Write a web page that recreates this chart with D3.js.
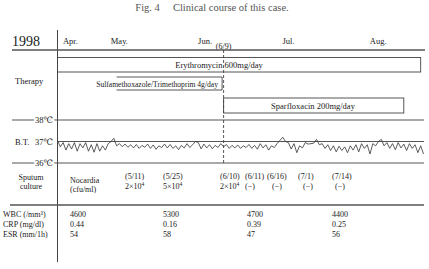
<!DOCTYPE html>
<html><head><meta charset="utf-8">
<script src="https://cdn.jsdelivr.net/npm/d3@7"></script>
<style>
html,body{margin:0;padding:0;background:#fff;}
svg{display:block;}
svg text{font-family:"Liberation Serif","DejaVu Serif",Times,serif;}
</style></head>
<body>
<svg id="c" width="429" height="269" font-family="Liberation Serif, DejaVu Serif, serif"></svg>
<script>
// ---- data ----
const title = "Fig. 4\u2003 Clinical course of this case.";
const year = "1998";
const monthLabels = ["Apr.", "May.", "Jun.", "Jul.", "Aug."];
const monthDates = ["1998-04-14", "1998-05-01", "1998-06-01", "1998-07-01", "1998-08-01"];
const markerDate = "1998-06-09";
const markerLabel = "(6/9)";
const therapyNames = ["Erythromycin 600mg/day", "Sulfamethoxazole/Trimethoprim 4g/day", "Sparfloxacin 200mg/day"];
const therapyStart = ["1998-04-11", "1998-05-02", "1998-06-09"];
const therapyEnd = ["1998-08-18", "1998-06-09", "1998-08-12"];
const tempTicks = [38, 37, 36];
const tempStart = "1998-04-11";
const temps = [
  37.05,36.75,36.95,36.6,36.9,36.65,36.95,36.55,36.9,36.7,36.95,36.55,36.85,36.5,36.9,36.55,36.8,36.6,36.9,37.0,37.15,
  36.8,36.9,36.76,36.88,36.73,36.85,36.7,36.86,36.68,36.82,36.73,36.88,36.68,36.84,36.64,36.8,36.72,36.88,36.7,36.86,36.68,36.8,36.62,36.82,36.7,36.9,36.72,36.85,37.0,36.95,
  36.66,36.88,36.7,36.85,36.66,36.82,36.72,36.9,36.76,36.86,36.68,36.82,36.7,36.84,36.68,36.8,36.72,36.86,36.68,36.82,36.64,36.9,36.7,36.85,36.6,36.8,36.72,36.9,37.05,37.2,
  37.0,36.95,36.65,36.9,36.48,36.8,36.7,36.95,36.88,36.9,36.92,37.1,36.85,36.9,36.68,36.85,36.58,36.8,36.52,36.78,36.58,36.75,36.48,36.8,36.6,36.85,36.52,36.9,36.68,36.85,36.42,
  36.9,36.8,37.0,37.1,36.8,36.95,36.68,36.9,36.62,36.95,36.7,36.88,36.58,36.9,36.68,36.85,36.48,36.8,36.42
];
const sputumDates = ["(5/11)", "(5/25)", "(6/10)", "(6/11)", "(6/16)", "(7/1)", "(7/14)"];
const sputumBase = ["2\u00d710", "5\u00d710", "2\u00d710", "(\u2212)", "(\u2212)", "(\u2212)", "(\u2212)"];
const sputumExp = ["4", "4", "4", "", "", "", ""];
const labNames = ["WBC (/mm\u00b3)", "CRP (mg/dl)", "ESR (mm/1h)"];
const labWBC = ["4600", "5300", "4700", "4400"];
const labCRP = ["0.44", "0.16", "0.39", "0.25"];
const labESR = ["54", "58", "47", "56"];

// ---- layout ----
const svg = d3.select("#c");
const ink = "#1a1a1a", lineC = "#444";
const p = d3.utcParse("%Y-%m-%d");
const x = d3.scaleUtc().domain([p("1998-04-11"), p("1998-08-19")]).range([57.5, 423.5]);
const y = d3.scaleLinear().domain([36, 38]).range([163, 120]);
const axisX = 57.5;

svg.append("text").attr("x", 212).attr("y", 11).attr("text-anchor", "middle")
  .attr("font-size", 10.5).attr("fill", "#555").text(title);

svg.append("text").attr("x", 12).attr("y", 46).attr("font-size", 14).attr("fill", ink).text(year);

svg.selectAll("text.month").data(monthLabels).join("text").attr("class", "month")
  .attr("x", (d, i) => x(p(monthDates[i])) - 3).attr("y", 44)
  .attr("font-size", 8.5).attr("fill", ink).text(d => d);

svg.append("text").attr("x", x(p(markerDate))).attr("y", 48.5).attr("text-anchor", "middle")
  .attr("font-size", 8).attr("fill", ink).text(markerLabel);

// frame lines
svg.append("line").attr("x1", axisX).attr("x2", axisX).attr("y1", 30).attr("y2", 262)
  .attr("stroke", lineC).attr("stroke-width", 1);
svg.append("line").attr("x1", 12).attr("x2", 425).attr("y1", 50).attr("y2", 50)
  .attr("stroke", "#555").attr("stroke-width", 1.6);
svg.append("line").attr("x1", 10).attr("x2", 424).attr("y1", 205).attr("y2", 205)
  .attr("stroke", "#555").attr("stroke-width", 1.4);

// therapy
svg.append("text").attr("x", 15).attr("y", 84).attr("font-size", 8.5).attr("fill", ink).text("Therapy");
const tg = svg.append("g").attr("fill", "none").attr("stroke", lineC).attr("stroke-width", 0.9);
tg.append("rect").attr("x", x(p(therapyStart[0]))).attr("y", 57.5)
  .attr("width", x(p(therapyEnd[0])) - x(p(therapyStart[0]))).attr("height", 14.5);
const s1 = x(p(therapyStart[1])), s2 = x(p(therapyEnd[1])) - 1.5;
tg.append("path").attr("d", `M${s1},77 H${s2} V90 H${s1}`);
tg.append("rect").attr("x", x(p(therapyStart[2]))).attr("y", 98)
  .attr("width", x(p(therapyEnd[2])) - x(p(therapyStart[2]))).attr("height", 15);

svg.append("text").attr("x", 219).attr("y", 68).attr("text-anchor", "middle")
  .attr("font-size", 8.5).attr("fill", ink).text(therapyNames[0]);
svg.append("text").attr("x", 218).attr("y", 87).attr("text-anchor", "end")
  .attr("font-size", 7.6).attr("fill", ink).text(therapyNames[1]);
svg.append("text").attr("x", 313).attr("y", 109).attr("text-anchor", "middle")
  .attr("font-size", 8.5).attr("fill", ink).text(therapyNames[2]);

// temperature grid
svg.selectAll("line.tg").data(tempTicks).join("line").attr("class", "tg")
  .attr("x1", d => d === 37 ? axisX : 12).attr("x2", 424)
  .attr("y1", d => y(d)).attr("y2", d => y(d))
  .attr("stroke", "#555").attr("stroke-width", 1.2);
svg.selectAll("text.tt").data(tempTicks).join("text").attr("class", "tt")
  .attr("x", 35).attr("y", d => y(d) + 3).attr("font-size", 8.5).attr("fill", ink)
  .attr("stroke", "#fff").attr("stroke-width", 3).attr("paint-order", "stroke")
  .text(d => d + "\u2103");
svg.append("text").attr("x", 15).attr("y", y(37) + 3).attr("font-size", 8.5).attr("fill", ink).text("B.T.");

// marker dashed line
svg.append("line").attr("x1", x(p(markerDate))).attr("x2", x(p(markerDate)))
  .attr("y1", 50).attr("y2", 165).attr("stroke", lineC).attr("stroke-width", 0.9)
  .attr("stroke-dasharray", "3,2");

// temperature line
const t0 = p(tempStart);
const tData = temps.map((t, i) => ({ date: d3.utcDay.offset(t0, i), t }));
svg.append("path").datum(tData)
  .attr("d", d3.line().x(d => x(d.date)).y(d => y(d.t)))
  .attr("fill", "none").attr("stroke", "#333").attr("stroke-width", 0.8);

// sputum culture
const fs = 8;
svg.append("text").attr("x", 31).attr("y", 180).attr("text-anchor", "middle").attr("font-size", fs).attr("fill", ink).text("Sputum");
svg.append("text").attr("x", 31).attr("y", 189).attr("text-anchor", "middle").attr("font-size", fs).attr("fill", ink).text("culture");
svg.append("text").attr("x", 70).attr("y", 183).attr("font-size", fs).attr("fill", ink).text("Nocardia");
svg.append("text").attr("x", 70).attr("y", 192).attr("font-size", fs).attr("fill", ink).text("(cfu/ml)");
const spX = [125, 163, 220, 245, 267, 298, 332];
const spX2 = [125, 163, 220, 245, 272, 303, 335];
svg.selectAll("text.sd").data(sputumDates).join("text").attr("class", "sd")
  .attr("x", (d, i) => spX[i]).attr("y", 179).attr("font-size", fs).attr("fill", ink).text(d => d);
const sr = svg.selectAll("text.sr").data(sputumBase).join("text").attr("class", "sr")
  .attr("x", (d, i) => spX2[i]).attr("y", 188.5).attr("font-size", fs).attr("fill", ink);
sr.append("tspan").text(d => d);
sr.append("tspan").attr("dy", -3).attr("font-size", 5.5).text((d, i) => sputumExp[i]);

// labs
const labY = [217, 227, 237];
svg.selectAll("text.ln").data(labNames).join("text").attr("class", "ln")
  .attr("x", 3).attr("y", (d, i) => labY[i]).attr("font-size", fs).attr("fill", ink).text(d => d);
const labX = [70, 163, 247, 332];
[labWBC, labCRP, labESR].forEach((row, r) => {
  svg.selectAll("text.lv" + r).data(row).join("text").attr("class", "lv" + r)
    .attr("x", (d, i) => labX[i]).attr("y", labY[r]).attr("font-size", fs).attr("fill", ink).text(d => d);
});
</script>
</body></html>
